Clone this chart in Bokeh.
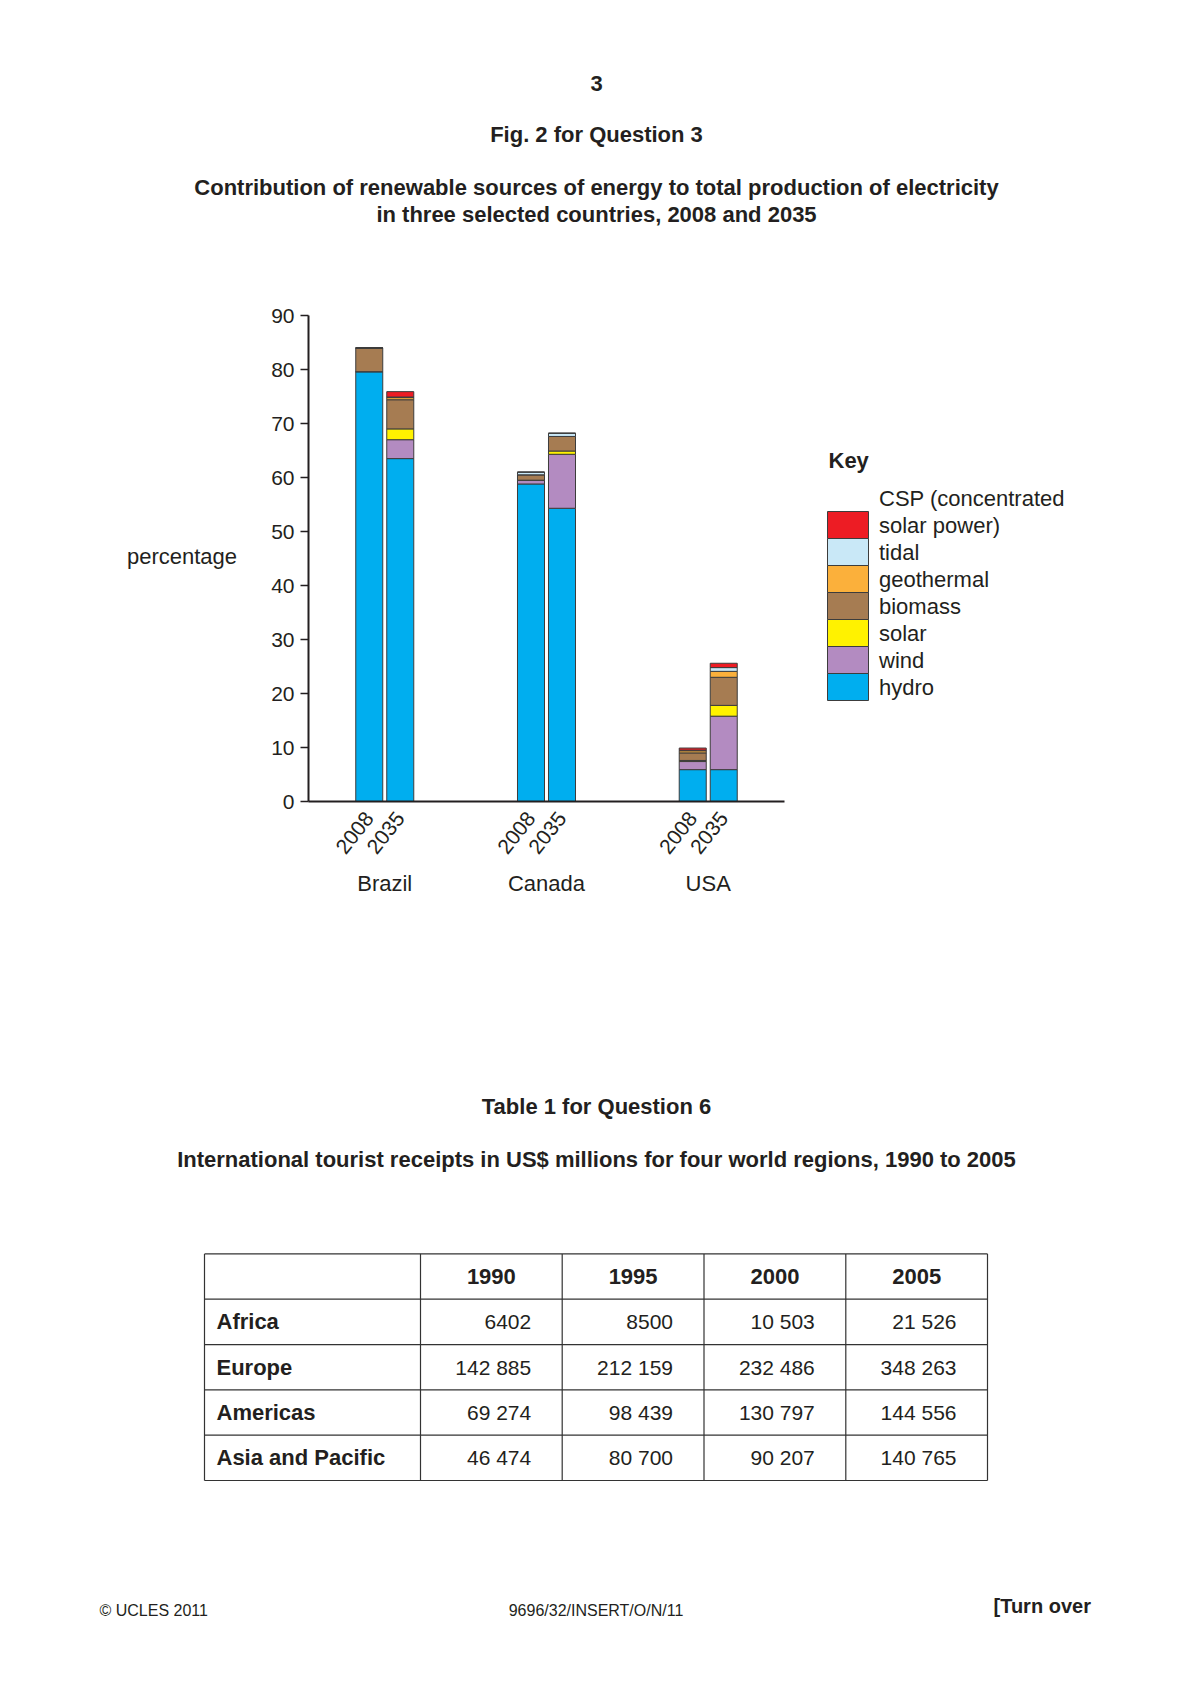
from bokeh.plotting import figure
from bokeh.models import Range1d, FactorRange, SingleIntervalTicker, ColumnDataSource
from bokeh.layouts import column, row
from bokeh.embed import file_html
from bokeh.resources import INLINE
from bokeh.core.properties import value

# ---------------- data ----------------
countries = ["Brazil", "Canada", "USA"]
years = ["2008", "2035"]
series_names = ["hydro", "wind", "solar", "biomass", "geothermal", "tidal",
                "CSP (concentrated solar power)"]
hydro = [79.6, 63.5, 58.8, 54.3, 5.9, 5.9]
wind = [0.0, 3.5, 0.7, 10.0, 1.5, 9.9]
solar = [0.0, 2.0, 0.0, 0.6, 0.2, 2.0]
biomass = [4.4, 5.4, 1.0, 2.7, 1.4, 5.2]
geothermal = [0.0, 0.4, 0.0, 0.0, 0.4, 1.1]
tidal = [0.0, 0.1, 0.5, 0.6, 0.1, 0.7]
csp = [0.0, 1.0, 0.0, 0.0, 0.4, 0.8]
y_ticks_max = 90

table_years = ["1990", "1995", "2000", "2005"]
regions = ["Africa", "Europe", "Americas", "Asia and Pacific"]
r1990 = [6402, 142885, 69274, 46474]
r1995 = [8500, 212159, 98439, 80700]
r2000 = [10503, 232486, 130797, 90207]
r2005 = [21526, 348263, 144556, 140765]

# ---------------- styles ----------------
FONT = value("Liberation Sans")
INK = "#231f20"
colors = ["#00AEEF", "#B38BC1", "#FFF200", "#A67C52", "#FBB03B", "#C9E8F7", "#ED1C24"]
W = 1182
MID_H = 720
MB_TOP, MB_BOT = 67, 167


def page_fig(w, h, y0=None, y1=None, mb_top=0, mb_bot=0):
    if y0 is None:
        y0, y1 = 0, h
    p = figure(width=w, height=h, x_range=Range1d(0, w), y_range=Range1d(y1, y0),
               output_backend="svg", toolbar_location=None, min_border=0,
               min_border_top=mb_top, min_border_bottom=mb_bot,
               x_axis_location=None, y_axis_location=None)
    p.grid.visible = False
    p.outline_line_color = None
    p.background_fill_color = "white"
    p.border_fill_color = "white"
    return p


def txt(p, x, y, t, size="22px", style="normal", align="center", baseline="middle"):
    p.text(x=x, y=y, text=t, text_font=FONT, text_font_size=size,
           text_font_style=style, text_align=align, text_baseline=baseline,
           text_color=INK)


# ---------------- top titles ----------------
top = page_fig(W, 248)
txt(top, [596], [82.7], ["3"], style="bold")
txt(top, [596], [134.3], ["Fig. 2 for Question 3"], style="bold")
txt(top, [596, 596], [186.9, 213.7],
    ["Contribution of renewable sources of energy to total production of electricity",
     "in three selected countries, 2008 and 2035"], style="bold")

# ---------------- left label ----------------
left = page_fig(238, MID_H, MB_TOP, MID_H - MB_BOT, MB_TOP, MB_BOT)
txt(left, [181.5], [308.4], ["percentage"])

# ---------------- chart ----------------
factors = [(c, yv) for c in countries for yv in years]
stack_keys = ["hydro", "wind", "solar", "biomass", "geothermal", "tidal", "csp"]
source = ColumnDataSource(dict(x=factors, hydro=hydro, wind=wind, solar=solar,
                               biomass=biomass, geothermal=geothermal, tidal=tidal,
                               csp=csp))

x_range = FactorRange(*factors, factor_padding=0.0333, group_padding=3.357,
                      range_padding=1.525, range_padding_units="absolute")
chart = figure(width=570, height=MID_H, x_range=x_range, y_range=Range1d(0, y_ticks_max),
               output_backend="svg", toolbar_location=None,
               min_border_left=70, min_border_right=24, min_border_top=MB_TOP,
               min_border_bottom=MB_BOT)
chart.outline_line_color = None
chart.grid.visible = False
chart.background_fill_color = "white"
chart.border_fill_color = "white"

chart.vbar_stack(stack_keys, x="x", width=0.9, source=source, color=colors,
                 line_color="#3c3c3c", line_width=1)

ya = chart.yaxis[0]
ya.ticker = SingleIntervalTicker(interval=10, num_minor_ticks=0)
ya.axis_line_color = INK
ya.axis_line_width = 2
ya.major_tick_line_color = INK
ya.major_tick_line_width = 1.5
ya.major_tick_out = 8
ya.major_tick_in = 0
ya.minor_tick_line_color = None
ya.major_label_standoff = 6
ya.major_label_text_font = "Liberation Sans"
ya.major_label_text_font_size = "21px"
ya.major_label_text_color = INK

xa = chart.xaxis[0]
xa.axis_line_color = INK
xa.axis_line_width = 2
xa.major_tick_line_color = None
xa.major_tick_out = 5
xa.major_tick_in = 0
xa.minor_tick_line_color = None
xa.major_label_standoff = 8
xa.major_label_orientation = 0.9
xa.major_label_text_font = "Liberation Sans"
xa.major_label_text_font_size = "21px"
xa.major_label_text_color = INK
xa.group_text_font = "Liberation Sans"
xa.group_text_font_size = "22px"
xa.group_text_font_style = "normal"
xa.group_text_color = INK
xa.group_text_line_height = 1.8
xa.separator_line_color = None

# ---------------- key ----------------
key = page_fig(W - 238 - 570, MID_H, MB_TOP, MID_H - MB_BOT, MB_TOP, MB_BOT)
txt(key, [20], [211.7], ["Key"], style="bold", align="left")
order = list(range(len(series_names)))[::-1]  # CSP at top, hydro at bottom
sw_x, sw_w, sw_h, sw_top = 39.5, 41, 27, 263
sw_y = [sw_top + sw_h * (k + 0.5) for k in range(len(order))]
key.rect(x=[sw_x] * len(order), y=sw_y, width=sw_w, height=sw_h,
         fill_color=[colors[i] for i in order], line_color="#3c3c3c", line_width=1)
lab_x, lab_y, lab_t = [], [], []
for k, i in enumerate(order):
    name = series_names[i]
    if name.startswith("CSP"):
        lab_x += [70.5, 70.5]
        lab_y += [sw_y[k] - sw_h, sw_y[k]]
        lab_t += ["CSP (concentrated", "solar power)"]
    else:
        lab_x.append(70.5)
        lab_y.append(sw_y[k])
        lab_t.append(name)
txt(key, lab_x, lab_y, lab_t, align="left")

# ---------------- bottom: table + footer ----------------
bot = page_fig(W, 708)
txt(bot, [596], [138.2], ["Table 1 for Question 6"], style="bold")
txt(bot, [596], [190.8],
    ["International tourist receipts in US$ millions for four world regions, 1990 to 2005"],
    style="bold")

t_top, row_h = 285.4, 45.32
col_edges = [204, 420, 561.7, 703.5, 845.3, 987]
n_rows = len(regions) + 1
t_bot = t_top + n_rows * row_h
hx0 = [col_edges[0]] * (n_rows + 1)
hx1 = [col_edges[-1]] * (n_rows + 1)
hy = [t_top + k * row_h for k in range(n_rows + 1)]
bot.segment(x0=hx0, y0=hy, x1=hx1, y1=hy, line_color="#333333", line_width=1.2)
bot.segment(x0=col_edges, y0=[t_top] * len(col_edges), x1=col_edges,
            y1=[t_bot] * len(col_edges), line_color="#333333", line_width=1.2)

cx = [(col_edges[j + 1] + col_edges[j + 2]) / 2 for j in range(len(table_years))]
txt(bot, cx, [t_top + row_h / 2] * len(table_years), table_years, style="bold")
txt(bot, [216] * len(regions), [t_top + (i + 1.5) * row_h for i in range(len(regions))],
    regions, style="bold", align="left")


def fmt(v):
    return f"{v:,}".replace(",", " ") if v >= 10000 else str(v)


for j, col in enumerate([r1990, r1995, r2000, r2005]):
    xr = col_edges[j + 2] - 31
    txt(bot, [xr] * len(col), [t_top + (i + 1.5) * row_h for i in range(len(col))],
        [fmt(v) for v in col], size="21px", align="right")

txt(bot, [99], [642], ["© UCLES 2011"], size="16px", align="left")
txt(bot, [595.5], [642], ["9696/32/INSERT/O/N/11"], size="16px")
txt(bot, [993], [637.6], ["[Turn over"], size="20px", style="bold", align="left")

layout = column(top, row(left, chart, key), bot)
open("out.html", "w").write(file_html(layout, INLINE))
